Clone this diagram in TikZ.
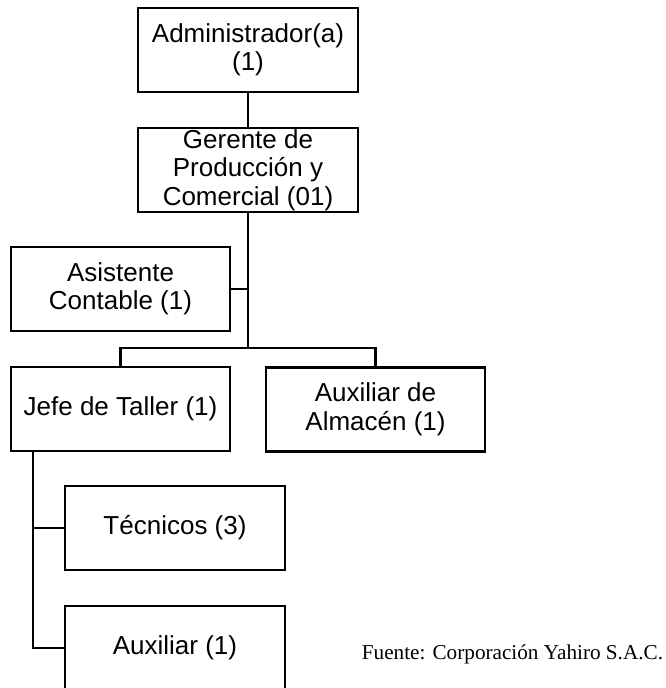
\documentclass[tikz,border=0pt]{standalone}
\usepackage{fontspec}
\setmainfont{Liberation Sans}
\newfontfamily\fuentefont{Liberation Serif}
\begin{document}
\begin{tikzpicture}[x=1pt,y=-1pt,
  orgbox/.style={draw=black,line width=2.6pt,rectangle,minimum width=219pt,minimum height=84pt,
    inner sep=0pt,align=center,font=\fontsize{26}{28.5}\selectfont},
  link/.style={draw=black,line width=2.6pt}]
\useasboundingbox (0,0) rectangle (665,688);
\node[orgbox,minimum width=220pt] (admin) at (248,50) {Administrador(a)\\(1)};
\node[orgbox,minimum width=220pt] (ger) at (248,170) {Gerente de\\Producción y\\Comercial (01)};
\node[orgbox] (asis) at (120.5,289) {Asistente\\Contable (1)};
\node[orgbox] (jefe) at (120.5,409) {Jefe de Taller (1)};
\node[orgbox] (alma) at (375.5,409.5) {Auxiliar de\\Almacén (1)};
\node[orgbox,minimum width=220pt] (tec) at (175,528) {Técnicos (3)};
\node[orgbox,minimum width=220pt] (aux) at (175,648) {Auxiliar (1)};
\node[font=\fuentefont\fontsize{21.2}{24}\selectfont,inner sep=0pt] (fuente) at (512.5,654) {Fuente: Corporación Yahiro S.A.C.};
\coordinate (busc) at (248,348);
\coordinate (jl) at (33,451);
\draw[link] (admin) -- (ger);
\draw[link] (ger.south) -- (busc);
\draw[link] (asis.east) -- (asis.east -| busc);
\draw[link] (jefe.north) |- (busc) -| (alma.north);
\draw[link] (jl) |- (aux.west);
\draw[link] (jl |- tec.west) -- (tec.west);
\end{tikzpicture}
\end{document}
